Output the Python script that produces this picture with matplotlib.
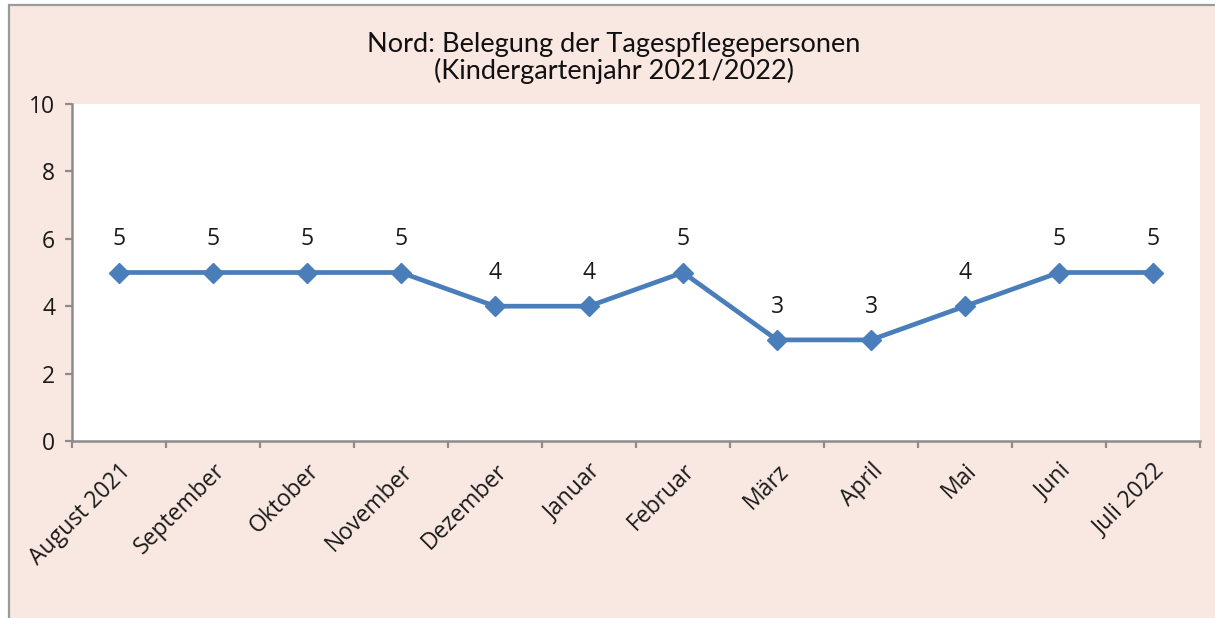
import matplotlib
matplotlib.use("Agg")
import matplotlib.pyplot as plt
from matplotlib.patches import Rectangle
import numpy as np

# Belegung der Tagespflegepersonen im Bezirk Nord, Kindergartenjahr 2021/2022
months = ["August 2021", "September", "Oktober", "November", "Dezember", "Januar",
          "Februar", "März", "April", "Mai", "Juni", "Juli 2022"]
belegung = [5, 5, 5, 5, 4, 4, 5, 3, 3, 4, 5, 5]
y_ticks = [0, 2, 4, 6, 8, 10]

title = "Nord: Belegung der Tagespflegepersonen\n(Kindergartenjahr 2021/2022)"

BG = "#F9E8E1"
LINE = "#4A7EBB"
AXIS = "#8C8C8C"
TXT = "#1a1a1a"
FS = 16.5

fig = plt.figure(figsize=(12.15, 6.18), dpi=100, facecolor="white")

# Chart area panel with a thin grey frame
W, H = 1215, 618
fig.patches.append(Rectangle((9 / W, -0.01), 1.02, 1 - 5 / H + 0.01,
                             transform=fig.transFigure, facecolor=BG,
                             edgecolor="#9A9A9A", linewidth=1.6, zorder=-1))

ax = fig.add_axes([72 / W, 1 - 441 / H, (1200 - 72) / W, (441 - 104) / H])
ax.set_zorder(1)
ax.set_facecolor("white")

x = np.arange(len(months))
ax.plot(x, belegung, color=LINE, linewidth=3.4, marker="D", markersize=10,
        markerfacecolor=LINE, markeredgecolor=LINE, zorder=3, clip_on=False)

for xi, v in zip(x, belegung):
    ax.annotate(str(v), (xi, v), xytext=(0, 24), textcoords="offset points",
                ha="center", va="center", fontsize=FS, family="Open Sans",
                color=TXT)

ax.set_xlim(-0.5, len(months) - 0.5)
ax.set_ylim(0, 10)

ax.set_yticks(y_ticks)
ax.set_yticklabels([str(t) for t in y_ticks], family="Open Sans", fontsize=FS,
                   color=TXT)

ax.set_xticks(x)
ax.set_xticklabels(months, rotation=45, ha="right", va="top",
                   rotation_mode="anchor", family="Open Sans", fontsize=FS,
                   color=TXT)
ax.set_xticks(np.arange(-0.5, len(months)), minor=True)

ax.tick_params(axis="x", which="major", length=0, pad=13)
ax.tick_params(axis="x", which="minor", length=5, width=1.6, color=AXIS,
               direction="out")
ax.tick_params(axis="y", length=5, width=1.6, color=AXIS, direction="out", pad=7)

for side in ("top", "right"):
    ax.spines[side].set_visible(False)
for side in ("left", "bottom"):
    ax.spines[side].set_color(AXIS)
    ax.spines[side].set_linewidth(1.8)

fig.text(0.5 * (365 + 862) / W, 1 - 58 / H, title, ha="center", va="center",
         fontsize=19.5, family="Lato", color="#111111", linespacing=1.05)

fig.savefig("out.png", dpi=100, facecolor="white")
